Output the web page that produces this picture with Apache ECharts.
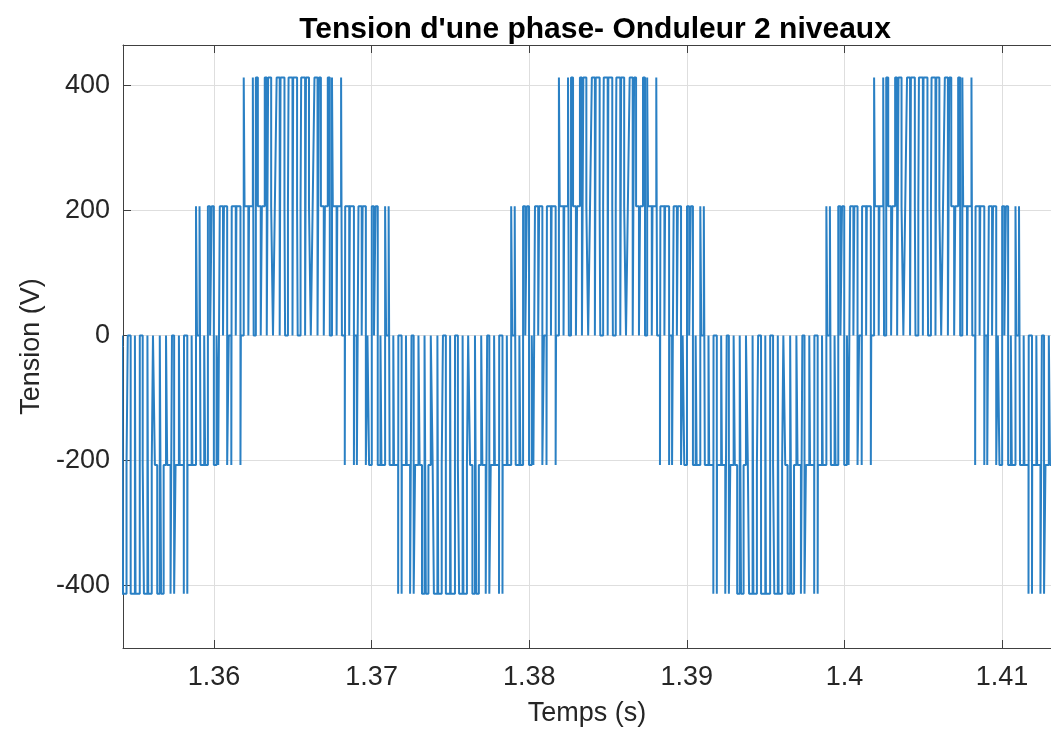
<!DOCTYPE html>
<html>
<head>
<meta charset="utf-8">
<script src="https://cdn.jsdelivr.net/npm/echarts@6/dist/echarts.min.js"></script>
<style>
  html, body { margin: 0; padding: 0; background: #ffffff; }
  #chart { width: 1051px; height: 742px; }
</style>
</head>
<body>
<div id="chart"></div>
<script>
// ---- texts ----
const titleText = "Tension d'une phase- Onduleur 2 niveaux";
const xName = "Temps (s)";
const yName = "Tension (V)";

// ---- axis ranges ----
const xRange = [1.354224, 1.41311];
const yRange = [-500, 465];

// ---- waveform: start times (s) of each fundamental cycle shown ----
const cycleStarts = [1.34, 1.36, 1.38, 1.40];

// switching instants inside one cycle (ms after cycle start)
const edgeMs = [
  0.264, 0.366, 0.570, 0.630, 0.834, 0.936,
  1.097, 1.123, 1.379, 1.421, 1.677, 1.703,
  1.885, 1.937, 2.178, 2.223, 2.463, 2.515,
  2.654, 2.781, 2.964, 3.036, 3.219, 3.346,
  3.433, 3.626, 3.741, 3.859, 3.974, 4.167,
  4.221, 4.470, 4.509, 4.691, 4.730, 4.979,
  5.021, 5.270, 5.309, 5.491, 5.530, 5.779,
  5.833, 6.026, 6.141, 6.259, 6.374, 6.567,
  6.654, 6.781, 6.964, 7.036, 7.219, 7.346,
  7.485, 7.537, 7.778, 7.823, 8.063, 8.115,
  8.297, 8.323, 8.579, 8.621, 8.877, 8.903,
  9.064, 9.166, 9.370, 9.430, 9.634, 9.736,
  9.839, 10.011, 10.150, 10.250, 10.389, 10.561,
  10.624, 10.856, 10.920, 11.080, 11.144, 11.376,
  11.420, 11.683, 11.696, 11.904, 11.917, 12.180,
  12.228, 12.441, 12.531, 12.669, 12.759, 12.972,
  13.046, 13.196, 13.358, 13.442, 13.604, 13.754,
  13.874, 13.952, 14.174, 14.226, 14.448, 14.526,
  14.710, 14.712, 14.980, 15.020, 15.288, 15.290,
  15.474, 15.552, 15.774, 15.826, 16.048, 16.126,
  16.246, 16.396, 16.558, 16.642, 16.804, 16.954,
  17.028, 17.241, 17.331, 17.469, 17.559, 17.772,
  17.820, 18.083, 18.096, 18.304, 18.317, 18.580,
  18.624, 18.856, 18.920, 19.080, 19.144, 19.376,
  19.439, 19.611, 19.750, 19.850, 19.989, 20.161
];

// voltage level (V) held after each switching instant
const edgeLevel = [
  -207, 207, 0, 207, -207, 0,
  -207, 207, 0, 207, -207, 0,
  413, 207, 0, 207, 413, 0,
  413, 207, 0, 207, 413, 0,
  413, 207, 0, 207, 413, 0,
  413, 207, 0, 207, 413, 0,
  413, 207, 0, 207, 413, 0,
  413, 207, 0, 207, 413, 0,
  413, 207, 0, 207, 413, 0,
  413, 207, 0, 207, 413, 0,
  -207, 207, 0, 207, -207, 0,
  -207, 207, 0, 207, -207, 0,
  -207, 207, 0, 207, -207, 0,
  -207, 207, 0, 207, -207, 0,
  -207, -413, 0, -413, -207, 0,
  -207, -413, 0, -413, -207, 0,
  -207, -413, 0, -413, -207, 0,
  -207, -413, 0, -413, -207, 0,
  -207, -413, 0, -413, -207, 0,
  -207, -413, 0, -413, -207, 0,
  -207, -413, 0, -413, -207, 0,
  -207, -413, 0, -413, -207, 0,
  -207, -413, 0, -413, -207, 0,
  -207, 207, 0, 207, -207, 0,
  -207, 207, 0, 207, -207, 0
];

// ---- build the step polyline (two points at every switching instant) ----
const points = [];
let prev = 0;
points.push([cycleStarts[0], 0]);
cycleStarts.forEach(function (start) {
  for (let i = 0; i < edgeMs.length; i++) {
    const t = +(start + edgeMs[i] / 1000).toFixed(7);
    points.push([t, prev]);
    points.push([t, edgeLevel[i]]);
    prev = edgeLevel[i];
  }
});

const FONT = "'Liberation Sans', Arial, Helvetica, sans-serif";
const axisColor = '#404040';
const gridColor = '#dedede';

const chart = echarts.init(document.getElementById('chart'), null, { renderer: 'canvas' });
chart.setOption({
  animation: false,
  backgroundColor: '#ffffff',
  title: {
    text: titleText,
    left: 590,
    textAlign: 'center',
    top: 10,
    textStyle: { fontFamily: FONT, fontSize: 30, fontWeight: 'bold', color: '#000000' }
  },
  grid: { left: 123, right: 0, top: 45, bottom: 94 },
  xAxis: [
    {
      type: 'value',
      min: xRange[0],
      max: xRange[1],
      position: 'bottom',
      name: xName,
      nameLocation: 'middle',
      nameGap: 52,
      nameTextStyle: { fontFamily: FONT, fontSize: 27, color: '#262626' },
      axisLine: { show: true, onZero: false, lineStyle: { color: axisColor, width: 1 } },
      axisTick: { show: true, inside: true, length: 8, lineStyle: { color: axisColor } },
      axisLabel: { fontFamily: FONT, fontSize: 27, color: '#262626', margin: 16, showMinLabel: false, showMaxLabel: false },
      splitLine: { show: true, lineStyle: { color: gridColor, width: 1 } }
    },
    {
      type: 'value',
      min: xRange[0],
      max: xRange[1],
      position: 'top',
      axisLine: { show: true, onZero: false, lineStyle: { color: axisColor, width: 1 } },
      axisTick: { show: true, inside: true, length: 8, lineStyle: { color: axisColor } },
      axisLabel: { show: false },
      splitLine: { show: false }
    }
  ],
  yAxis: {
    type: 'value',
    min: yRange[0],
    max: yRange[1],
    name: yName,
    nameLocation: 'middle',
    nameGap: 78,
    nameTextStyle: { fontFamily: FONT, fontSize: 27, color: '#262626' },
    axisLine: { show: true, onZero: false, lineStyle: { color: axisColor, width: 1 } },
    axisTick: { show: true, inside: true, length: 8, lineStyle: { color: axisColor } },
    axisLabel: { fontFamily: FONT, fontSize: 27, color: '#262626', margin: 13, showMinLabel: false, showMaxLabel: false },
    splitLine: { show: true, lineStyle: { color: gridColor, width: 1 } }
  },
  series: [{
    type: 'line',
    xAxisIndex: 0,
    data: points,
    showSymbol: false,
    symbol: 'none',
    sampling: null,
    clip: true,
    lineStyle: { color: '#2a80c4', width: 2 },
    emphasis: { disabled: true }
  }]
});
</script>
</body>
</html>
